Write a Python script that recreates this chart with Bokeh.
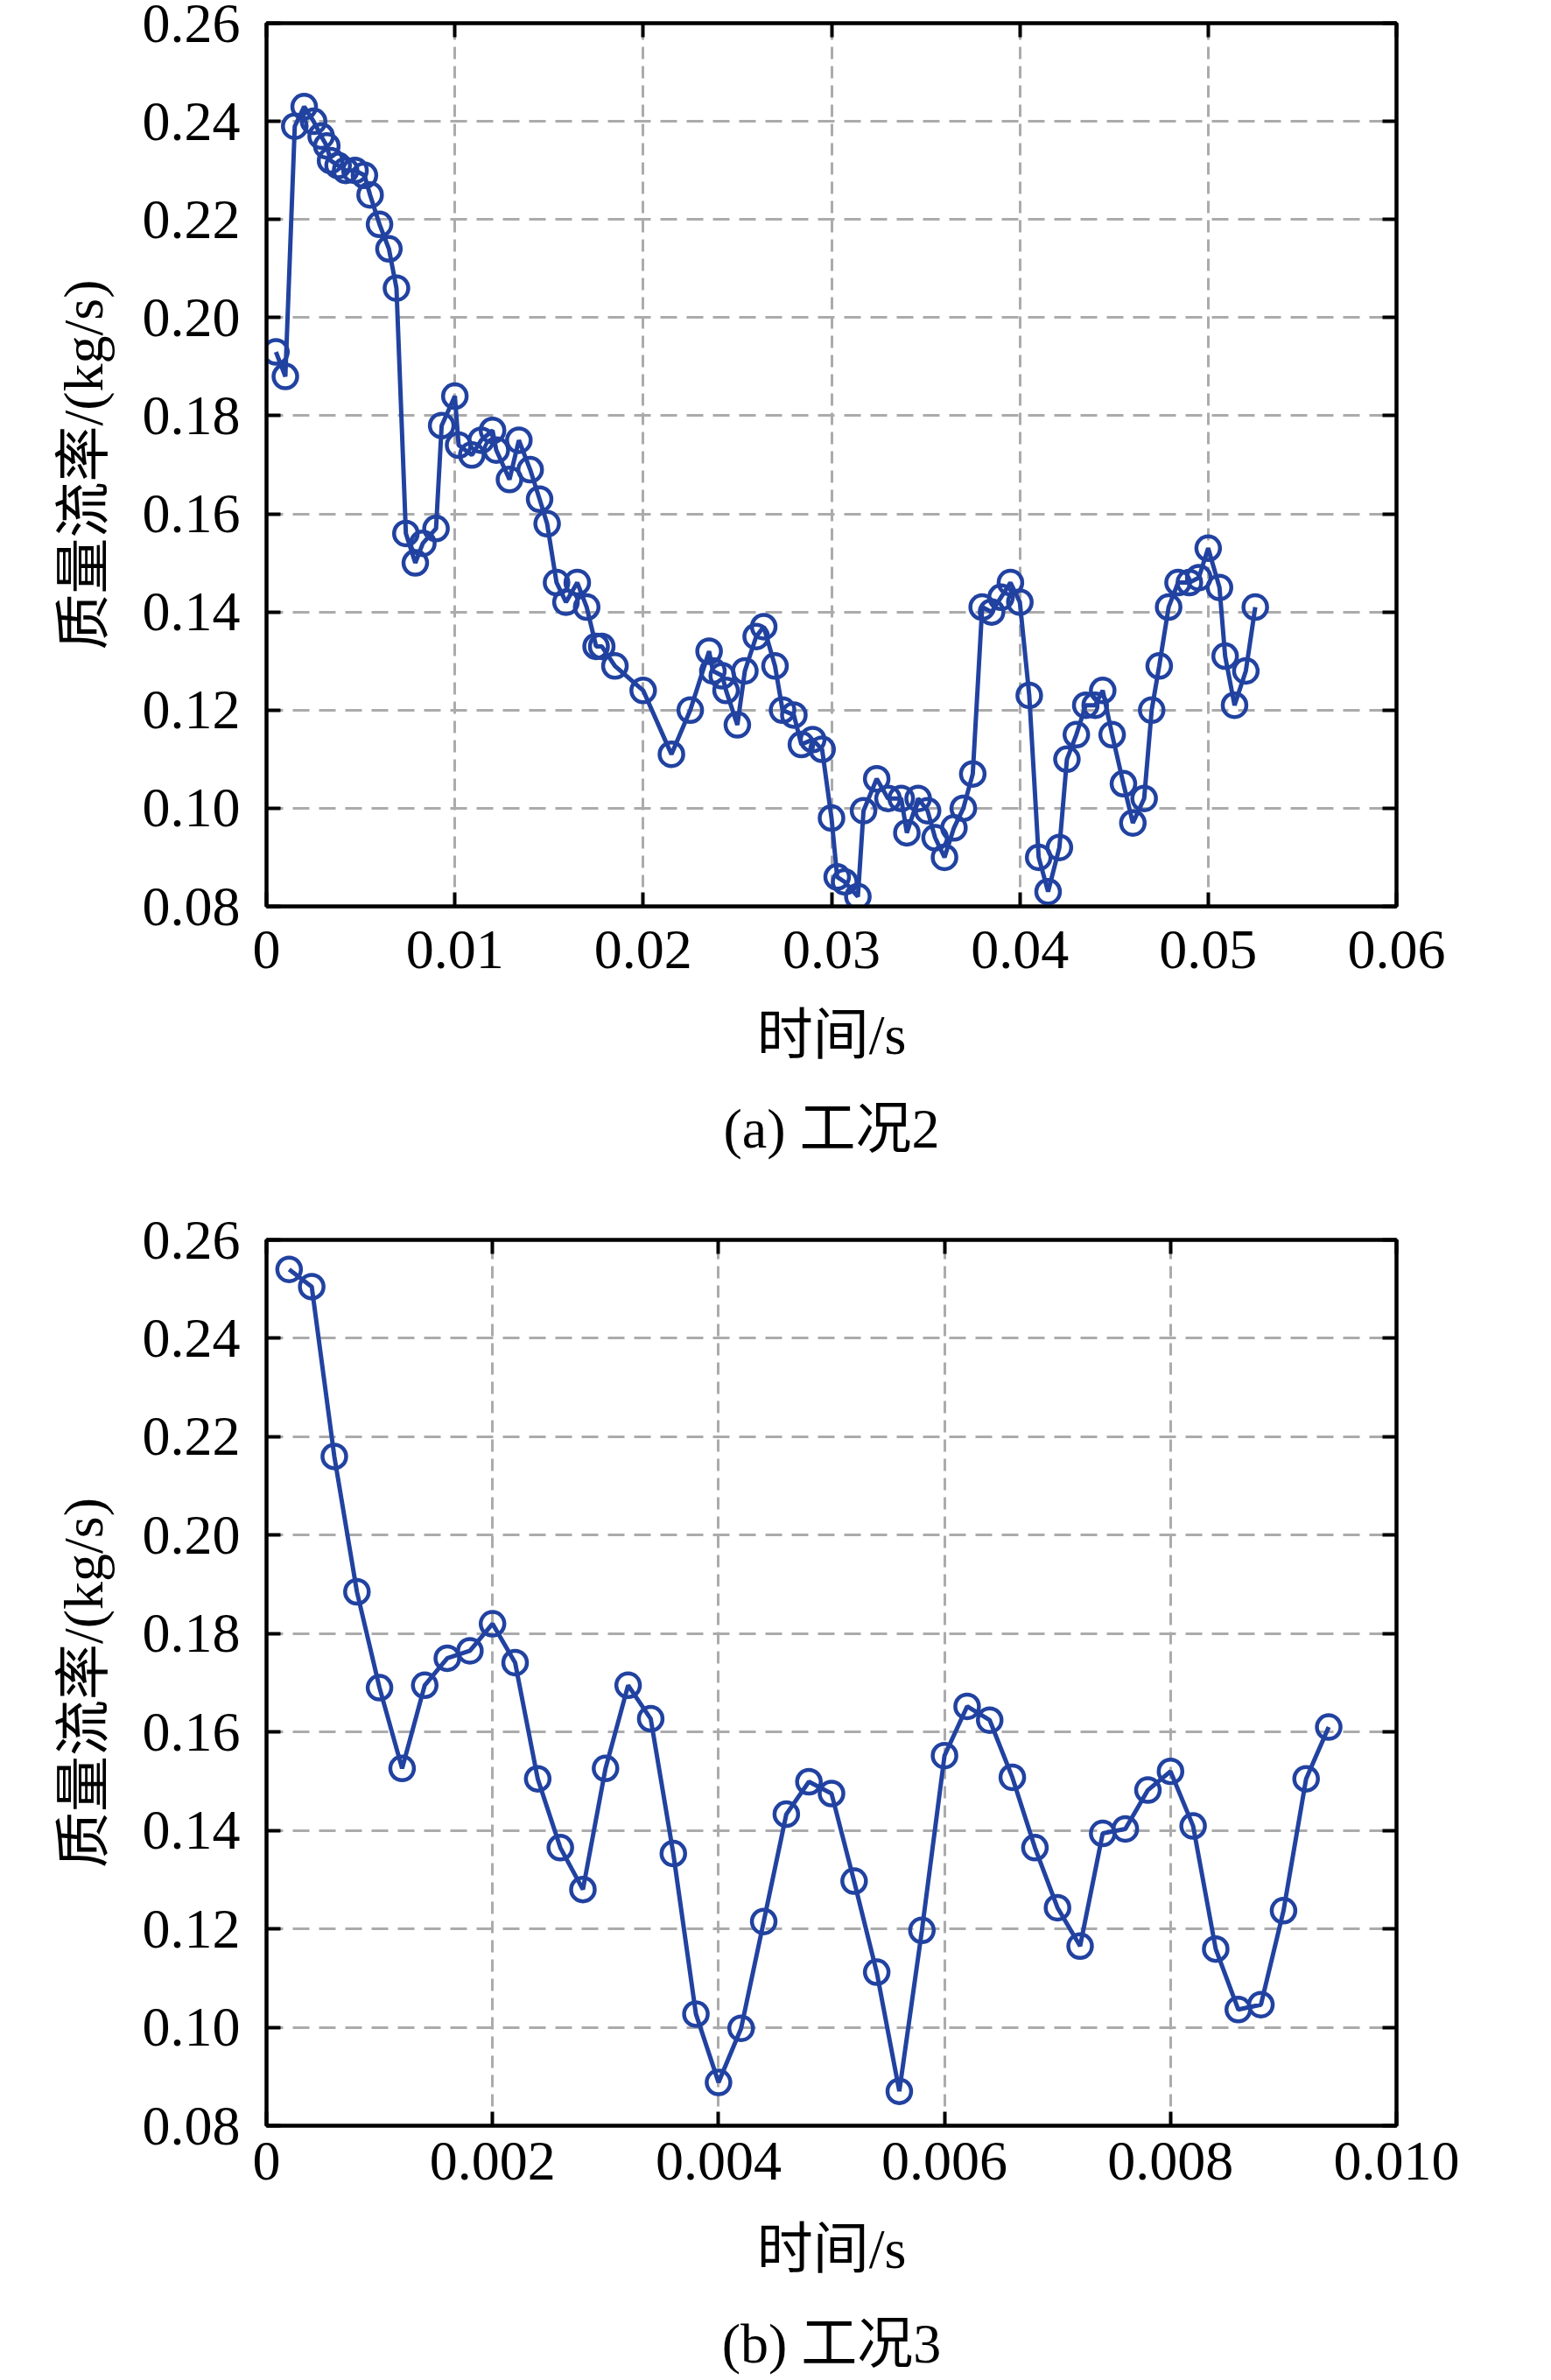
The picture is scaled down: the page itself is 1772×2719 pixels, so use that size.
from bokeh.plotting import figure
from bokeh.models import Range1d, FixedTicker, LinearAxis, CustomJSTickFormatter
from bokeh.core.properties import value
from bokeh.layouts import column
from bokeh.embed import file_html
from bokeh.resources import INLINE

# ---------------- data: (a) 工况2 ----------------
t_a = [0.0005, 0.0010, 0.0015, 0.0020, 0.0025, 0.0029, 0.0032, 0.0034, 0.0038, 0.0042,
       0.0047, 0.0052, 0.0055, 0.0060, 0.0065, 0.0069, 0.0074, 0.0079, 0.0083, 0.0090,
       0.0093, 0.0100, 0.0102, 0.0109, 0.0114, 0.0120, 0.0122, 0.0129, 0.0134, 0.0140,
       0.0145, 0.0149, 0.0154, 0.0159, 0.0165, 0.0170, 0.0175, 0.0178, 0.0185, 0.0200,
       0.0215, 0.0225, 0.0235, 0.0237, 0.0242, 0.0244, 0.0250, 0.0254, 0.0260, 0.0264,
       0.0270, 0.0274, 0.0280, 0.0284, 0.0290, 0.0295, 0.0300, 0.0303, 0.0307, 0.0314,
       0.0317, 0.0324, 0.0330, 0.0337, 0.0340, 0.0346, 0.0351, 0.0355, 0.0360, 0.0365,
       0.0370, 0.0375, 0.0380, 0.0385, 0.0390, 0.0395, 0.0400, 0.0405, 0.0410, 0.0415,
       0.0421, 0.0425, 0.0430, 0.0435, 0.0440, 0.0444, 0.0449, 0.0455, 0.0460, 0.0466,
       0.0470, 0.0474, 0.0479, 0.0484, 0.0490, 0.0495, 0.0500, 0.0506, 0.0509, 0.0514,
       0.0520, 0.0525]
m_a = [0.193, 0.188, 0.239, 0.243, 0.240, 0.237, 0.235, 0.232, 0.231, 0.230,
       0.230, 0.229, 0.225, 0.219, 0.214, 0.206, 0.156, 0.150, 0.154, 0.157,
       0.178, 0.184, 0.174, 0.172, 0.175, 0.177, 0.173, 0.167, 0.175, 0.169,
       0.163, 0.158, 0.146, 0.142, 0.146, 0.141, 0.133, 0.133, 0.129, 0.124,
       0.111, 0.120, 0.132, 0.128, 0.127, 0.124, 0.117, 0.128, 0.135, 0.137,
       0.129, 0.120, 0.119, 0.113, 0.114, 0.112, 0.098, 0.086, 0.085, 0.082,
       0.0995, 0.106, 0.102, 0.102, 0.095, 0.102, 0.0995, 0.094, 0.090, 0.096,
       0.100, 0.107, 0.141, 0.140, 0.143, 0.146, 0.142, 0.123, 0.090, 0.083,
       0.092, 0.110, 0.115, 0.121, 0.121, 0.124, 0.115, 0.105, 0.097, 0.102,
       0.120, 0.129, 0.141, 0.146, 0.146, 0.147, 0.153, 0.145, 0.131, 0.121,
       0.128, 0.141]

# ---------------- data: (b) 工况3 ----------------
t_b = [0.0002, 0.0004, 0.0006, 0.0008, 0.0010, 0.0012, 0.0014, 0.0016, 0.0018, 0.0020,
       0.0022, 0.0024, 0.0026, 0.0028, 0.0030, 0.0032, 0.0034, 0.0036, 0.0038, 0.0040,
       0.0042, 0.0044, 0.0046, 0.0048, 0.0050, 0.0052, 0.0054, 0.0056, 0.0058, 0.0060,
       0.0062, 0.0064, 0.0066, 0.0068, 0.0070, 0.0072, 0.0074, 0.0076, 0.0078, 0.0080,
       0.0082, 0.0084, 0.0086, 0.0088, 0.0090, 0.0092, 0.0094]
m_b = [0.254, 0.2505, 0.216, 0.1885, 0.169, 0.1526, 0.1695, 0.175, 0.1765, 0.182,
       0.1741, 0.1505, 0.1365, 0.128, 0.1526, 0.1695, 0.1627, 0.1353, 0.1027, 0.0888,
       0.0998, 0.1215, 0.1433, 0.1499, 0.1475, 0.1297, 0.1112, 0.0870, 0.1197, 0.1552,
       0.1652, 0.1624, 0.1508, 0.1365, 0.1243, 0.1165, 0.1394, 0.1403, 0.1482, 0.1520,
       0.1409, 0.1159, 0.1036, 0.1046, 0.1237, 0.1505, 0.1610]

x_ticks_a = [0, 0.01, 0.02, 0.03, 0.04, 0.05, 0.06]
x_ticks_b = [0, 0.002, 0.004, 0.006, 0.008, 0.010]
y_ticks = [0.08, 0.10, 0.12, 0.14, 0.16, 0.18, 0.20, 0.22, 0.24, 0.26]

y_label = "质量流率/(kg/s)"
x_label = "时间/s"
captions = ["(a) 工况2", "(b) 工况3"]

FONT = "'Liberation Serif', 'Times New Roman', 'Noto Sans CJK SC'"
BLUE = "#2142A0"
FS = "64px"

W = 1756
LEFT = 304
FRAME_W = 1291
RIGHT = W - LEFT - FRAME_W


def make_plot(t, m, xmax, xticks, xdigits, height, top, bottom, tick_sd, label_sd):
    p = figure(width=W, height=height, output_backend="svg", toolbar_location=None,
               x_range=Range1d(0, xmax), y_range=Range1d(0.08, 0.26),
               min_border_left=LEFT, min_border_right=RIGHT,
               min_border_top=top, min_border_bottom=bottom)
    p.outline_line_color = "black"
    p.outline_line_width = 4
    p.background_fill_color = "white"

    fmt_x = CustomJSTickFormatter(code=f"return tick == 0 ? '0' : tick.toFixed({xdigits});")
    fmt_y = CustomJSTickFormatter(code="return tick.toFixed(2);")

    for ax in [p.xaxis[0], p.yaxis[0]]:
        ax.major_tick_in = 16
        ax.major_tick_out = 0
        ax.major_tick_line_width = 4
        ax.minor_tick_line_color = None
        ax.axis_line_width = 4
        ax.major_label_text_font = FONT
        ax.major_label_text_font_size = FS
        ax.major_label_text_color = "black"
        ax.axis_label_text_font = FONT
        ax.axis_label_text_font_size = FS
        ax.axis_label_text_font_style = "normal"
        ax.axis_label_text_color = "black"

    p.xaxis[0].ticker = FixedTicker(ticks=xticks)
    p.xaxis[0].formatter = fmt_x
    p.xaxis[0].major_label_standoff = tick_sd
    p.xaxis[0].axis_label = x_label
    p.xaxis[0].axis_label_standoff = label_sd

    p.yaxis[0].ticker = FixedTicker(ticks=y_ticks)
    p.yaxis[0].formatter = fmt_y
    p.yaxis[0].major_label_standoff = 30
    p.yaxis[0].axis_label = y_label
    p.yaxis[0].axis_label_standoff = 29

    # ticks on right and top, inward, no labels
    for side, ticks in [("right", y_ticks), ("above", xticks)]:
        ax = LinearAxis(ticker=FixedTicker(ticks=ticks),
                        formatter=CustomJSTickFormatter(code="return '';"))
        ax.major_tick_in = 16
        ax.major_tick_out = 0
        ax.major_tick_line_width = 4
        ax.minor_tick_line_color = None
        ax.axis_line_width = 4
        ax.major_label_standoff = 0
        ax.major_label_text_font_size = "10px"
        p.add_layout(ax, side)

    p.xgrid.ticker = FixedTicker(ticks=xticks)
    p.ygrid.ticker = FixedTicker(ticks=y_ticks)
    p.xgrid.grid_line_color = "#ababab"
    p.xgrid.grid_line_width = 3
    p.xgrid.grid_line_dash = "14 8"
    p.ygrid.grid_line_color = "#ababab"
    p.ygrid.grid_line_width = 3
    p.ygrid.grid_line_dash = "19 11"

    p.line(t, m, line_color=BLUE, line_width=5)
    p.scatter(t, m, marker="circle", size=27, fill_color=None, line_color=BLUE, line_width=4.5)
    return p


def make_caption(text, height, ypos):
    c = figure(width=W, height=height, output_backend="svg", toolbar_location=None,
               x_range=Range1d(0, 1), y_range=Range1d(0, 1),
               x_axis_type=None, y_axis_type=None,
               min_border_left=LEFT, min_border_right=RIGHT,
               min_border_top=0, min_border_bottom=0)
    c.outline_line_color = None
    c.grid.visible = False
    c.text(x=[0.5], y=[ypos], text=[text], text_align="center", text_baseline="middle",
           text_font=value(FONT), text_font_size=value(FS), text_color="black")
    return c


p1 = make_plot(t_a, m_a, 0.06, x_ticks_a, 2, 1245, 26, 210, 28, 38)
c1 = make_caption(captions[0], 90, 0.511)
p2 = make_plot(t_b, m_b, 0.010, x_ticks_b, 3, 1303, 81, 210, 19, 41)
c2 = make_caption(captions[1], 81, 0.519)

page = column(p1, c1, p2, c2, spacing=0)
open("out.html", "w").write(file_html(page, INLINE))
